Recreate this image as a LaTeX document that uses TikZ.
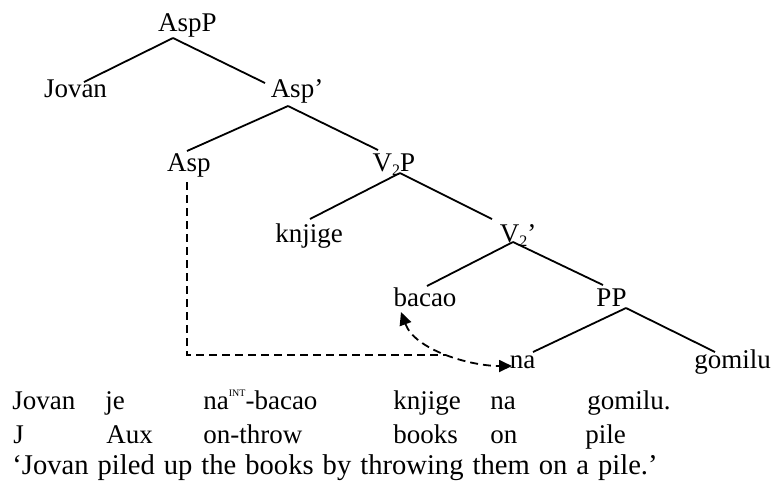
\documentclass[tikz,border=0pt]{standalone}
\usepackage{fontspec}
\setmainfont{Liberation Serif}
\usetikzlibrary{arrows.meta}
\newcommand\subtwo{\raisebox{-2.2pt}{\fontsize{8}{8}\selectfont 2}}
\begin{document}
\begin{tikzpicture}[x=0.5pt,y=-0.5pt,
  lbl/.style={inner sep=0pt, anchor=base, font=\fontsize{13.5}{16}\selectfont},
  gl/.style={inner sep=0pt, anchor=base west, font=\fontsize{13.5}{16}\selectfont},
  branch/.style={line width=0.9pt},
  move/.style={dash pattern=on 4pt off 2.5pt, line width=0.9pt},
  head/.tip={Triangle[length=6.5pt,width=6pt]}
]
\useasboundingbox (0,0) rectangle (772,484);

% tree labels (anchored at their baselines)
\node[lbl] (AspP)   at (187.5,31)  {AspP};
\node[lbl] (Jovan)  at (75.5,97)   {Jovan};
\node[lbl] (Aspb)   at (297,97)    {Asp’};
\node[lbl] (Asp)    at (189,171)   {Asp};
\node[lbl] (VP)     at (394,171)   {V\subtwo P};
\node[lbl] (knjige) at (309,242)   {knjige};
\node[lbl] (Vb)     at (518,242)   {V\subtwo’};
\node[lbl] (bacao)  at (425,306)   {bacao};
\node[lbl] (PP)     at (611.5,306) {PP};
\node[lbl] (na)     at (522.5,368) {na};
\node[lbl] (gomilu) at (732.5,368) {gomilu};

% branches
\draw[branch] ([shift={(-14.5,7)}]AspP.base) -- ([shift={(8.5,-15)}]Jovan.base);
\draw[branch] ([shift={(-14.5,7)}]AspP.base) -- ([shift={(-32,-14)}]Aspb.base);
\draw[branch] ([shift={(-9,9)}]Aspb.base) -- ([shift={(-2,-20)}]Asp.base);
\draw[branch] ([shift={(-9,9)}]Aspb.base) -- ([shift={(-16,-21)}]VP.base);
\draw[branch] ([shift={(6,2)}]VP.base) -- ([shift={(1,-23)}]knjige.base);
\draw[branch] ([shift={(6,2)}]VP.base) -- ([shift={(-26,-23)}]Vb.base);
\draw[branch] ([shift={(-5,0)}]Vb.base) -- ([shift={(2,-20)}]bacao.base);
\draw[branch] ([shift={(-5,0)}]Vb.base) -- ([shift={(-8.5,-21)}]PP.base);
\draw[branch] ([shift={(14.5,2)}]PP.base) -- ([shift={(10.5,-16)}]na.base);
\draw[branch] ([shift={(14.5,2)}]PP.base) -- ([shift={(-17.5,-16)}]gomilu.base);

% movement: Asp down and across to the na--bacao link
\coordinate (corner) at (187,355);
\coordinate (join)   at (446,355);
\draw[move] ([shift={(-2,11)}]Asp.base) -- (corner) -- (join);
\draw[move, head-head]
  ([shift={(-24,6)}]bacao.base) .. controls (415,350) and (470,366) .. ([shift={(-10.5,-2)}]na.base);

% glosses
\node[gl] (g1a) at (12,409)  {Jovan};
\node[gl] (g1b) at (105,409) {je};
\node[gl] (g1c) at (203,409) {na\raisebox{0.45em}{\fontsize{5}{5}\selectfont INT}-bacao};
\node[gl] (g1d) at (393,409) {knjige};
\node[gl] (g1e) at (490,409) {na};
\node[gl] (g1f) at (587,409) {gomilu.};
\node[gl] (g2a) at (13,443)  {J};
\node[gl] (g2b) at (106,443) {Aux};
\node[gl] (g2c) at (203,443) {on-throw};
\node[gl] (g2d) at (393,443) {books};
\node[gl] (g2e) at (490,443) {on};
\node[gl] (g2f) at (585,443) {pile};
\node[gl, font=\fontsize{14.3}{17}\selectfont] (tr) at (12,474)
  {\spaceskip=4.5pt\relax ‘Jovan piled up the books by throwing them on a pile.’};
\end{tikzpicture}
\end{document}
